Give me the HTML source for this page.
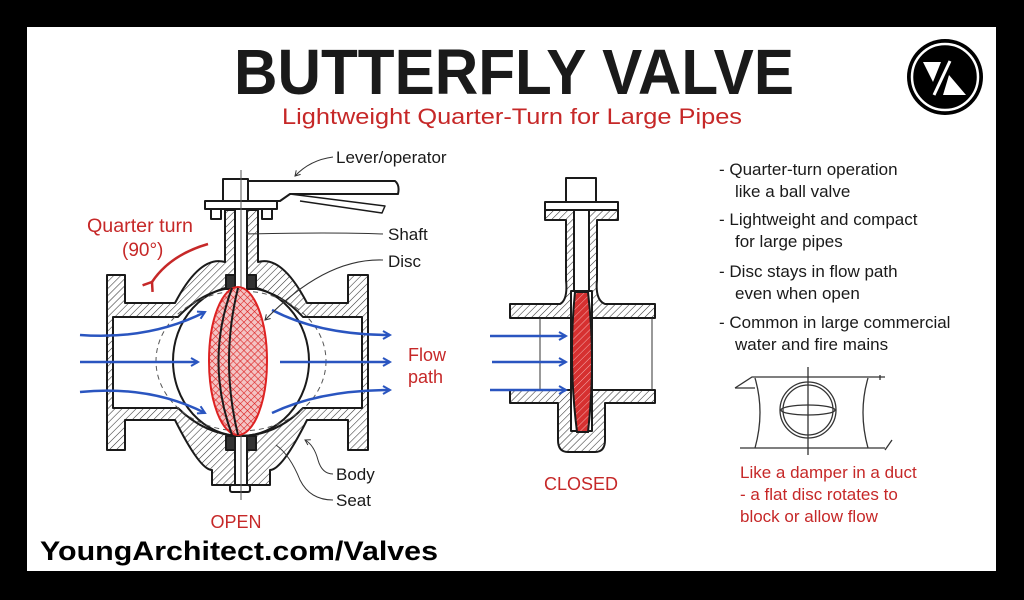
<!DOCTYPE html>
<html><head><meta charset="utf-8"><style>
html,body{margin:0;padding:0;background:#000;}
svg{display:block}
text{font-family:"Liberation Sans",sans-serif}
.h{font-family:"Liberation Sans Narrow","Liberation Sans",sans-serif}
</style></head><body>
<svg width="1024" height="600" viewBox="0 0 1024 600" xmlns="http://www.w3.org/2000/svg">
<defs>
<pattern id="hat" width="5" height="5" patternUnits="userSpaceOnUse" patternTransform="rotate(45)">
<rect width="5" height="5" fill="#fff"/><line x1="0" y1="0" x2="0" y2="5" stroke="#333" stroke-width="1.1"/></pattern>
<pattern id="xh" width="5" height="5" patternUnits="userSpaceOnUse" patternTransform="rotate(45)">
<rect width="5" height="5" fill="#f3c4c4"/><path d="M0 0V5M0 0H5" stroke="#d22" stroke-width="1.2"/></pattern>
<pattern id="rh" width="5" height="5" patternUnits="userSpaceOnUse" patternTransform="rotate(45)">
<rect width="5" height="5" fill="#d63030"/><line x1="0" y1="0" x2="0" y2="5" stroke="#f5b0b0" stroke-width="1"/></pattern>
<marker id="ab" markerWidth="10" markerHeight="10" refX="8" refY="5" orient="auto" markerUnits="userSpaceOnUse"><path d="M1 1L8 5L1 9" fill="none" stroke="#2a55c0" stroke-width="2"/></marker>
<marker id="ak" markerWidth="8" markerHeight="8" refX="6" refY="4" orient="auto" markerUnits="userSpaceOnUse"><path d="M1 1L6 4L1 7" fill="none" stroke="#333" stroke-width="1"/></marker>
<marker id="ar" markerWidth="14" markerHeight="14" refX="3" refY="7" orient="auto" markerUnits="userSpaceOnUse"><path d="M11 1L3 7L11 13" fill="none" stroke="#c62828" stroke-width="2.5"/></marker>
</defs>
<rect x="27" y="27" width="969" height="544" fill="#fff"/>

<!-- Title -->
<text x="514" y="94" class="h" font-size="64" font-weight="bold" text-anchor="middle" textLength="560" lengthAdjust="spacingAndGlyphs" fill="#1a1a1a">BUTTERFLY VALVE</text>
<text x="512" y="124" font-size="22" text-anchor="middle" textLength="460" lengthAdjust="spacingAndGlyphs" fill="#c62828">Lightweight Quarter-Turn for Large Pipes</text>

<!-- logo -->
<circle cx="945" cy="77" r="38" fill="#000"/>
<circle cx="945" cy="77" r="33" fill="none" stroke="#fff" stroke-width="2.5"/>
<polygon points="923,62 941,62 933,82" fill="#fff"/>
<polygon points="949,75 966,95 943,95" fill="#fff"/>
<line x1="950" y1="61" x2="934" y2="95" stroke="#fff" stroke-width="3"/>

<!-- OPEN VALVE -->
<g stroke="#1a1a1a" stroke-width="2" stroke-linejoin="round">
<path d="M107 275H125V303H175Q200 255 225 262V210H258V262Q282 255 307 303H348V275H368V450H348V420H307Q282 470 270 470V485H212V470Q200 470 175 420H125V450H107Z" fill="url(#hat)"/>
<path d="M113 317H178Q205 288 241 287Q277 288 303 317H362V408H303Q277 435 241 436Q205 435 178 408H113Z" fill="#fff"/>
<ellipse cx="241" cy="361" rx="68" ry="75" fill="none" stroke-width="2"/>
<rect x="205" y="201" width="72" height="8" fill="#fff"/>
<rect x="211" y="209" width="10" height="10" fill="#fff"/><rect x="262" y="209" width="10" height="10" fill="#fff"/>
<rect x="223" y="179" width="25" height="22" fill="#fff"/>
<path d="M248 181H395Q400 185 398 194H290L280 201H248Z" fill="#fff"/>
<path d="M290 194L385 206L382 213L300 201" fill="#fff" stroke-width="1.5"/>
<rect x="235" y="209" width="12" height="82" fill="#fff"/>
<rect x="235" y="436" width="12" height="50" fill="#fff"/>
<rect x="230" y="485" width="20" height="7" rx="2" fill="#fff"/>
<rect x="226" y="275" width="9" height="14" fill="#333"/><rect x="247" y="275" width="9" height="14" fill="#333"/>
<rect x="226" y="436" width="9" height="14" fill="#333"/><rect x="247" y="436" width="9" height="14" fill="#333"/>
</g>
<line x1="241" y1="170" x2="241" y2="500" stroke="#555" stroke-width="1"/>
<ellipse cx="241" cy="361" rx="85" ry="70" fill="none" stroke="#555" stroke-dasharray="5,4" stroke-width="1"/>
<ellipse cx="238" cy="361" rx="29" ry="74" fill="url(#xh)" stroke="#d22" stroke-width="2"/>
<path d="M232 288Q205 361 232 435M238 288Q220 361 238 435" fill="none" stroke="#1a1a1a" stroke-width="2"/>
<g stroke="#2a55c0" stroke-width="2.5" fill="none" marker-end="url(#ab)">
<path d="M80 335Q150 340 205 312"/>
<path d="M80 362H198"/>
<path d="M80 392Q150 385 205 413"/>
<path d="M272 310Q320 335 390 335"/>
<path d="M280 362H390"/>
<path d="M272 413Q320 390 390 390"/>
</g>
<path d="M208 244Q170 255 152 282" fill="none" stroke="#c62828" stroke-width="2.5" marker-end="url(#ar)"/>
<text x="87" y="232" font-size="19" fill="#c62828" textLength="106" lengthAdjust="spacingAndGlyphs">Quarter turn</text>
<text x="122" y="256" font-size="19" fill="#c62828">(90°)</text>
<g fill="none" stroke="#333" stroke-width="1">
<path d="M333 157Q310 160 295 176" marker-end="url(#ak)"/>
<path d="M383 234Q330 232 246 234"/>
<path d="M383 260Q325 258 265 320" marker-end="url(#ak)"/>
<path d="M333 474Q322 474 318 460Q314 445 305 440" marker-end="url(#ak)"/>
<path d="M333 500Q310 500 300 480Q290 455 276 445"/>
</g>
<text x="336" y="163" font-size="17" fill="#1a1a1a">Lever/operator</text>
<text x="388" y="240" font-size="17" fill="#1a1a1a">Shaft</text>
<text x="388" y="267" font-size="17" fill="#1a1a1a">Disc</text>
<text x="408" y="361" font-size="18" fill="#c62828">Flow</text>
<text x="408" y="383" font-size="18" fill="#c62828">path</text>
<text x="336" y="480" font-size="17" fill="#1a1a1a">Body</text>
<text x="336" y="506" font-size="17" fill="#1a1a1a">Seat</text>
<text x="236" y="528" font-size="18" fill="#c62828" text-anchor="middle">OPEN</text>

<!-- CLOSED VALVE -->
<g stroke="#1a1a1a" stroke-width="2" stroke-linejoin="round">
<path d="M510 304H560Q568 300 566 280V220H545V210H618V220H597V280Q595 300 605 304H655V318H510Z" fill="url(#hat)"/>
<path d="M510 390H655V403H605V440Q605 452 595 452H568Q558 452 558 440V403H510Z" fill="url(#hat)"/>
<rect x="574" y="210" width="15" height="82" fill="#fff"/>
<rect x="545" y="202" width="73" height="8" fill="#fff"/>
<rect x="566" y="178" width="30" height="24" fill="#fff"/>
<rect x="571" y="291" width="21" height="140" fill="#fff"/>
</g>
<line x1="540" y1="318" x2="540" y2="390" stroke="#333" stroke-width="1"/>
<line x1="652" y1="318" x2="652" y2="390" stroke="#333" stroke-width="1"/>
<path d="M575 292L588 292Q596 360 588 432L577 432Q568 360 575 292Z" fill="url(#rh)" stroke="#1a1a1a" stroke-width="2"/>
<g stroke="#2a55c0" stroke-width="2.5" fill="none" marker-end="url(#ab)">
<path d="M490 336H566"/><path d="M492 362H566"/><path d="M490 390H566"/>
</g>
<text x="581" y="490" font-size="18" fill="#c62828" text-anchor="middle">CLOSED</text>

<g font-size="17" fill="#1a1a1a">
<text x="719" y="175">- Quarter-turn operation</text>
<text x="735" y="197">like a ball valve</text>
<text x="719" y="225">- Lightweight and compact</text>
<text x="735" y="247">for large pipes</text>
<text x="719" y="277">- Disc stays in flow path</text>
<text x="735" y="299">even when open</text>
<text x="719" y="328">- Common in large commercial</text>
<text x="735" y="350">water and fire mains</text>
</g>
<g fill="none" stroke="#333" stroke-width="1.3">
<path d="M735 388L752 377H885"/><path d="M735 388H755"/>
<path d="M740 448H885"/><path d="M755 378Q765 412 755 448"/><path d="M868 378Q858 412 868 448"/>
<path d="M880 375V380M885 450L892 440"/>
<circle cx="808" cy="410" r="28"/><circle cx="808" cy="410" r="25"/>
<line x1="808" y1="367" x2="808" y2="455"/>
<ellipse cx="808" cy="410" rx="27" ry="5"/>
</g>
<g font-size="17" fill="#c62828">
<text x="740" y="478">Like a damper in a duct</text>
<text x="740" y="500">- a flat disc rotates to</text>
<text x="740" y="522">block or allow flow</text>
</g>

<text x="40" y="560" font-size="27" font-weight="bold" fill="#000" textLength="398" lengthAdjust="spacingAndGlyphs">YoungArchitect.com/Valves</text>
</svg>
</body></html>
